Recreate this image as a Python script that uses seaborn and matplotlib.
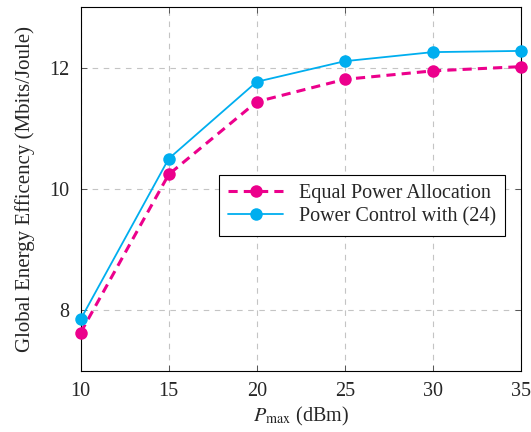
import matplotlib
matplotlib.use("Agg")
import matplotlib.pyplot as plt
import seaborn as sns
import pandas as pd
from matplotlib.lines import Line2D

p_max = [10, 15, 20, 25, 30, 35]
equal_power = [7.63, 10.24, 11.44, 11.81, 11.95, 12.02]
power_control = [7.85, 10.50, 11.77, 12.11, 12.26, 12.28]
labels = ["Equal Power Allocation", "Power Control with (24)"]

df = pd.DataFrame({
    "P": p_max * 2,
    "E": equal_power + power_control,
    "series": [labels[0]] * len(p_max) + [labels[1]] * len(p_max),
})

sns.set_style("ticks")
plt.rcParams["font.family"] = ["Liberation Serif", "DejaVu Serif"]
plt.rcParams["mathtext.fontset"] = "stix"

FS = 14.5
fig = plt.figure(figsize=(5.31, 4.32), dpi=100)
ax = fig.add_axes([80.7 / 531, 1 - 370.7 / 432, 440 / 531, 363.4 / 432])

palette = {labels[0]: "#EC008C", labels[1]: "#00AEEF"}
sns.lineplot(data=df, x="P", y="E", hue="series", style="series", palette=palette,
             dashes={labels[0]: (3, 2), labels[1]: ""},
             markers={labels[0]: "o", labels[1]: "o"}, markersize=9,
             markeredgewidth=0, ax=ax, legend=False)
for line, lw in zip(ax.lines, [2.2, 1.3]):
    line.set_linewidth(lw)
    line.set_clip_on(False)
    line.set_zorder(5)

ax.set_xlim(10, 35)
ax.set_ylim(7, 13)
ax.set_xticks([10, 15, 20, 25, 30, 35])
ax.set_yticks([8, 10, 12])
ax.grid(True, color="#c4c4c4", linestyle=(0, (5, 5)), linewidth=0.8)
for s in ax.spines.values():
    s.set_color("black")
    s.set_linewidth(0.8)
ax.tick_params(direction="in", length=4, width=0.6, labelsize=FS, top=True, right=True,
               color="#444444", pad=8)
ax.set_xlabel(r"$P_{\mathrm{max}}$ (dBm)", fontsize=FS, labelpad=3)
ax.set_ylabel("Global Energy Efficency (Mbits/Joule)", fontsize=15, labelpad=10)

handles = [
    Line2D([], [], color="#EC008C", linestyle=(0, (3, 2)), linewidth=2.2, marker="o",
           markersize=9, markeredgewidth=0),
    Line2D([], [], color="#00AEEF", linestyle="-", linewidth=1.3, marker="o",
           markersize=9, markeredgewidth=0),
]
leg = ax.legend(handles, labels, loc="center", bbox_to_anchor=(0.64, 0.455),
                fontsize=FS, frameon=True, fancybox=False, edgecolor="black",
                framealpha=1, handlelength=2.7, borderpad=0.45, labelspacing=0.2,
                handletextpad=0.8)
leg.get_frame().set_linewidth(0.8)
leg.set_zorder(10)

fig.savefig("out.png", dpi=100)
